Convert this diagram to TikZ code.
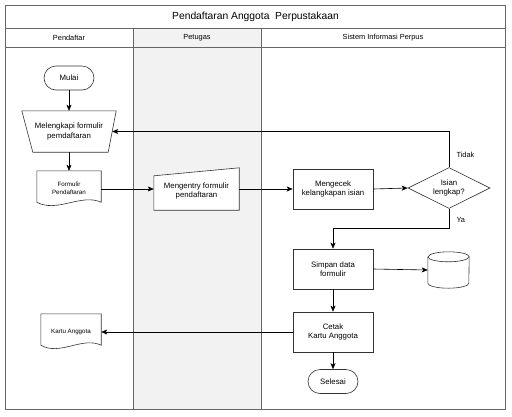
\documentclass[tikz,border=0pt]{standalone}
\usepackage{fontspec}
\setmainfont{Liberation Sans}
\usetikzlibrary{arrows.meta,calc,shapes.geometric}
\definecolor{lanegray}{HTML}{F2F2F2}
\definecolor{frame}{HTML}{666666}
\definecolor{edge}{HTML}{333333}
\begin{document}
\begin{tikzpicture}[x=1pt,y=-1pt,
  txt/.style={font=\fontsize{7.8}{9.2}\selectfont, align=center, text=black},
  hdr/.style={font=\fontsize{7.4}{9}\selectfont, text=black},
  smalltxt/.style={font=\fontsize{6.2}{7.6}\selectfont, align=center, text=black},
  shp/.style={draw=edge, line width=0.6pt},
  box/.style={shp, fill=white, rectangle, minimum width=80pt, minimum height=40pt, inner sep=0pt, txt},
  term/.style={shp, fill=white, rectangle, rounded corners=12pt, minimum width=50pt, minimum height=24pt, inner sep=0pt, txt},
  ghost/.style={rectangle, draw=none, inner sep=0pt},
  arr/.style={draw=black, line width=0.6pt, -{Stealth[length=6pt,width=5pt,inset=1.5pt]}}
]
\useasboundingbox (0,0) rectangle (512,416);
% swimlanes
\fill[lanegray] (133,28) rectangle (261,409);
\draw[frame, line width=0.7pt] (5,5) rectangle (505,409);
\draw[frame, line width=0.7pt] (5,28) -- (505,28);
\draw[frame, line width=0.7pt] (5,47) -- (505,47);
\draw[frame, line width=0.7pt] (133,28) -- (133,409);
\draw[frame, line width=0.7pt] (261,28) -- (261,409);
\node[font=\fontsize{10.3}{12}\selectfont] (title) at (255.5,16.5) {Pendaftaran Anggota\ \ Perpustakaan};
\node[hdr] (h1) at (69,37.5) {Pendaftar};
\node[hdr] (h2) at (197,37.5) {Petugas};
\node[hdr] (h3) at (383,37.5) {Sistem Informasi Perpus};

% Mulai
\node[term] (mulai) at (69,78) {Mulai};
% manual operation
\node[ghost, minimum width=94pt, minimum height=41pt] (mo) at (69,131.5) {};
\draw[shp, fill=white] (mo.north west) -- (mo.north east) -- ([xshift=-8pt]mo.south east) -- ([xshift=11pt]mo.south west) -- cycle;
\node[txt] at (mo) {Melengkapi formulir\\pemdaftaran};
% document 1
\node[ghost, minimum width=64pt, minimum height=36pt] (doc1) at (69,189) {};
\draw[shp, fill=white] (doc1.north west) -- (doc1.north east) -- ([yshift=5pt]doc1.south east)
  .. controls ([xshift=-20pt,yshift=14pt]doc1.south east) and ([xshift=20pt,yshift=-6pt]doc1.south west) .. ([yshift=5pt]doc1.south west) -- cycle;
\node[smalltxt] at ([yshift=1pt]doc1.center) {Formulir\\Pendaftaran};
% manual input
\node[ghost, minimum width=85pt, minimum height=42pt] (me) at (196.5,189) {};
\draw[shp, fill=white] ([yshift=-8pt]me.north west) -- (me.north east) -- (me.south east) -- (me.south west) -- cycle;
\node[txt] at ([yshift=-2pt]me.center) {Mengentry formulir\\pendaftaran};
% process boxes
\node[box] (cek) at (333,189) {Mengecek\\kelangkapan isian};
\node[shp, fill=white, diamond, aspect=2, minimum width=82pt, minimum height=41pt, inner sep=0pt, txt] (dec) at (449,188) {Isian\\lengkap?};
\node[box] (simpan) at (333,269) {Simpan data\\formulir};
\node[box] (cetak) at (333,332) {Cetak\\Kartu Anggota};
\node[term] (selesai) at (333,381.5) {Selesai};
% database
\node[ghost, minimum width=41pt, minimum height=36pt] (db) at (448.5,270) {};
\draw[shp, fill=white] ([yshift=-5pt]db.north west) -- ([yshift=5pt]db.south west) arc (180:360:20.5pt and 5pt) -- ([yshift=-5pt]db.north east) arc (0:180:20.5pt and 5pt) -- cycle;
\draw[shp] ([yshift=-5pt]db.north west) arc (180:360:20.5pt and 5pt);
% kartu anggota document
\node[ghost, minimum width=60pt, minimum height=36pt] (kartu) at (71,332) {};
\draw[shp, fill=white] (kartu.north west) -- (kartu.north east) -- ([yshift=5pt]kartu.south east)
  .. controls ([xshift=-19pt,yshift=14pt]kartu.south east) and ([xshift=19pt,yshift=-6pt]kartu.south west) .. ([yshift=5pt]kartu.south west) -- cycle;
\node[smalltxt] at (kartu.center) {Kartu Anggota};

% connectors
\draw[arr] (mulai) -- (mo);
\draw[arr] (mo.south -| doc1) -- (doc1);
\draw[arr] (doc1.east) -- (me.west);
\draw[arr] (me.east) -- (cek.west |- me.east);
\draw[arr] (cek.east) -- (dec.west);
\coordinate (tidakc) at (dec.north |- mo.east);
\draw[arr] (dec.north) -- (tidakc) -- ([xshift=-4pt]mo.east);
\node[hdr, anchor=west] (tidak) at (453,155) {Tidak};
\coordinate (yac) at ($(dec.south)+(0,19)$);
\draw[arr] (dec.south) -- (yac) -- (yac -| simpan) -- (simpan.north);
\node[hdr, anchor=west] (ya) at (453,220) {Ya};
\draw[arr] (simpan.east) -- (db.west);
\draw[arr] (simpan) -- (cetak);
\draw[arr] (cetak.west) -- (kartu.east);
\draw[arr] (cetak) -- (selesai);
\end{tikzpicture}
\end{document}
